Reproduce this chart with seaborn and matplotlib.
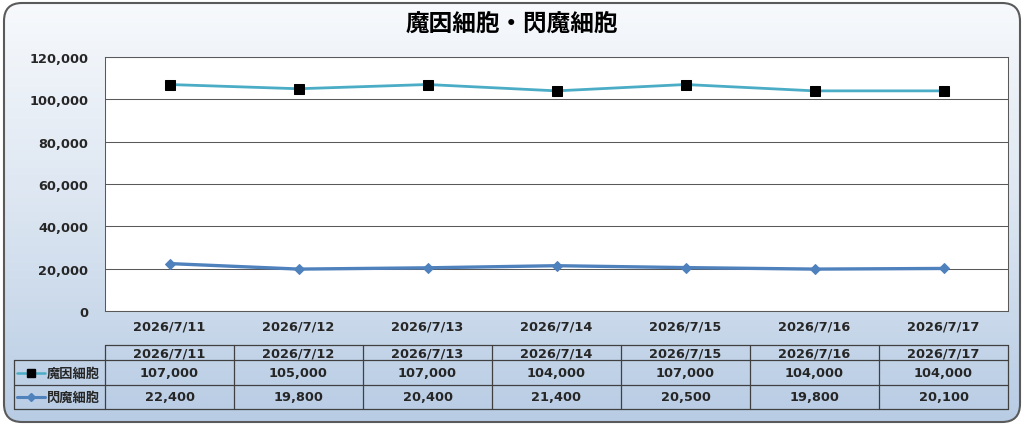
import numpy as np
import pandas as pd
import matplotlib
matplotlib.use("Agg")
import matplotlib.pyplot as plt
import seaborn as sns
from matplotlib.patches import FancyBboxPatch
from matplotlib.lines import Line2D

# data
dates = ["2026/7/11", "2026/7/12", "2026/7/13", "2026/7/14", "2026/7/15", "2026/7/16", "2026/7/17"]
series_names = ["魔因細胞", "閃魔細胞"]
maoin = [107000, 105000, 107000, 104000, 107000, 104000, 104000]
senma = [22400, 19800, 20400, 21400, 20500, 19800, 20100]
y_ticks = [0, 20000, 40000, 60000, 80000, 100000, 120000]

sns.set_style("white")
plt.rcParams["font.family"] = ["DejaVu Sans", "Noto Sans CJK JP"]
plt.rcParams["font.weight"] = "bold"
fs = 9.3

W, H = 1024, 427
fig = plt.figure(figsize=(W / 100, H / 100), dpi=100)

# rounded gradient background
bg = fig.add_axes([0, 0, 1, 1])
bg.set_xlim(0, W)
bg.set_ylim(H, 0)
bg.axis("off")
grad = np.linspace(0, 1, 256).reshape(-1, 1)
cmap = matplotlib.colors.LinearSegmentedColormap.from_list("bgc", ["#f7f9fc", "#dbe5f1", "#b8cce4"])
box = FancyBboxPatch((4, 4), W - 8, H - 8, boxstyle="round,pad=0,rounding_size=18",
                     fc="none", ec="#5a5a5a", lw=1.5, zorder=3)
bg.add_patch(box)
im = bg.imshow(grad, aspect="auto", cmap=cmap, extent=(4, W - 4, H - 4, 4), zorder=1)
im.set_clip_path(box)

fig.text(0.5, 1 - 24 / H, "魔因細胞・閃魔細胞", ha="center", va="center",
         fontsize=17, fontweight="bold", color="black", family=["Noto Sans CJK JP"])

# plot area
x0, x1, yt, yb = 105, 1008, 58, 312
ax = fig.add_axes([x0 / W, 1 - yb / H, (x1 - x0) / W, (yb - yt) / H])
ax.set_facecolor("white")

df = pd.DataFrame({
    "idx": list(range(len(dates))) * 2,
    "value": maoin + senma,
    "series": [series_names[0]] * len(dates) + [series_names[1]] * len(dates),
})
c1, c2 = "#4bacc6", "#4f81bd"
sns.lineplot(data=df[df["series"] == series_names[0]], x="idx", y="value", ax=ax,
             color=c1, lw=2.0, marker="s", markersize=7.2, markerfacecolor="black",
             markeredgecolor="black", zorder=4)
sns.lineplot(data=df[df["series"] == series_names[1]], x="idx", y="value", ax=ax,
             color=c2, lw=2.4, marker="D", markersize=5.5, markerfacecolor=c2,
             markeredgecolor=c2, zorder=4)

ax.set_xlim(-0.5, len(dates) - 0.5)
ax.set_ylim(0, 120000)
ax.set_yticks(y_ticks)
ax.set_yticklabels([f"{v:,}" for v in y_ticks], fontsize=fs)
ax.set_xticks(range(len(dates)))
ax.set_xticklabels(dates, fontsize=fs)
ax.tick_params(axis="y", length=0, pad=12)
ax.tick_params(axis="x", length=0, pad=6)
ax.grid(axis="y", color="#595959", lw=0.75)
ax.set_xlabel("")
ax.set_ylabel("")
for s in ax.spines.values():
    s.set_color("#595959")
    s.set_linewidth(0.75)

# data table under the chart
tab = fig.add_axes([0, 0, 1, 1], facecolor="none")
tab.set_xlim(0, W)
tab.set_ylim(H, 0)
tab.axis("off")
colw = (x1 - x0) / len(dates)
r0, r1, r2, r3 = 346, 361, 386, 410
lx = 14
lc = "#404040"
tab.plot([x0, x1], [r0, r0], color=lc, lw=0.9)
for yy in (r1, r2, r3):
    tab.plot([lx, x1], [yy, yy], color=lc, lw=0.9)
tab.plot([lx, lx], [r1, r3], color=lc, lw=0.9)
for i in range(len(dates) + 1):
    xx = x0 + i * colw
    tab.plot([xx, xx], [r0, r3], color=lc, lw=0.9)

for i, d in enumerate(dates):
    cx = x0 + (i + 0.5) * colw
    tab.text(cx, (r0 + r1) / 2 + 0.5, d, ha="center", va="center", fontsize=fs)
    tab.text(cx, (r1 + r2) / 2, f"{maoin[i]:,}", ha="center", va="center", fontsize=fs)
    tab.text(cx, (r2 + r3) / 2, f"{senma[i]:,}", ha="center", va="center", fontsize=fs)

# legend keys in the table
for (yy, name, col, mk, mfc, ms, lw) in [
    ((r1 + r2) / 2, series_names[0], c1, "s", "black", 6, 1.8),
    ((r2 + r3) / 2, series_names[1], c2, "D", c2, 4.5, 2.2),
]:
    tab.add_line(Line2D([17, 45], [yy, yy], color=col, lw=lw))
    tab.plot([31], [yy], marker=mk, color=mfc, markersize=ms, markeredgecolor=mfc)
    tab.text(47, yy, name, ha="left", va="center", fontsize=9.5, fontweight="bold",
             family=["Noto Sans CJK JP"])

fig.savefig("out.png", dpi=100)
